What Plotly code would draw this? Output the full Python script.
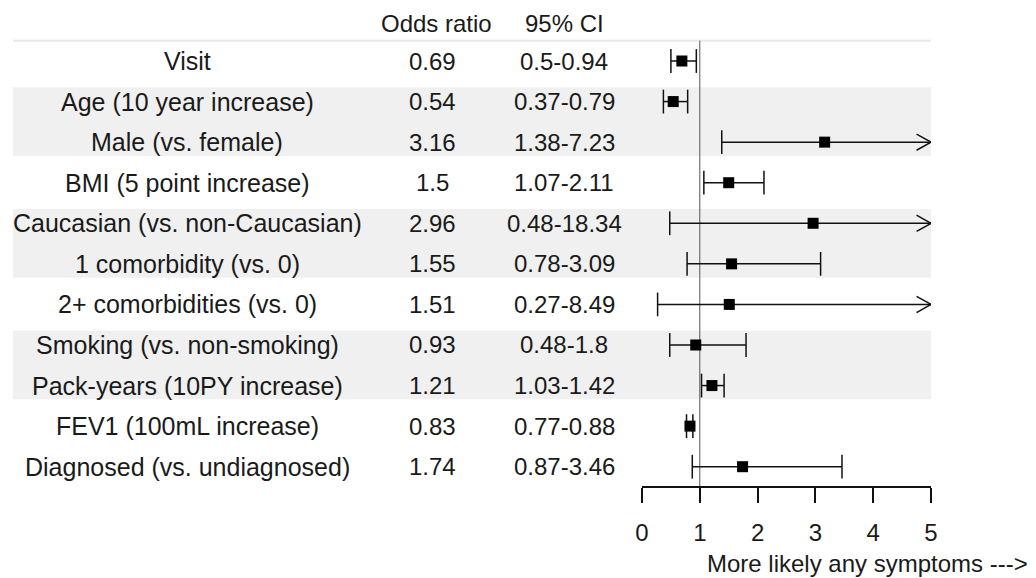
import plotly.graph_objects as go

# ---- data ----
labels = ["Visit", "Age (10 year increase)", "Male (vs. female)", "BMI (5 point increase)",
          "Caucasian (vs. non-Caucasian)", "1 comorbidity (vs. 0)", "2+ comorbidities (vs. 0)",
          "Smoking (vs. non-smoking)", "Pack-years (10PY increase)", "FEV1 (100mL increase)",
          "Diagnosed (vs. undiagnosed)"]
odds = [0.69, 0.54, 3.16, 1.5, 2.96, 1.55, 1.51, 0.93, 1.21, 0.83, 1.74]
ci_low = [0.5, 0.37, 1.38, 1.07, 0.48, 0.78, 0.27, 0.48, 1.03, 0.77, 0.87]
ci_high = [0.94, 0.79, 7.23, 2.11, 18.34, 3.09, 8.49, 1.8, 1.42, 0.88, 3.46]
shaded_groups = [(1, 2), (4, 5), (7, 8)]
headers = ["Odds ratio", "95% CI"]
x_ticks = [0, 1, 2, 3, 4, 5]
x_title = "More likely any symptoms --->"
x_max = 5

# page is rendered with an 8px body margin; figure is sized to fit the window
OFF = 8
FW, FH = 1036 - OFF, 578 - OFF
FONT = "Liberation Sans, Arial, sans-serif"
FS = 24
FS_LAB = 25
TXT = "#1a1a1a"


def px(x_page):
    return (x_page - OFF) / FW


rows = list(range(len(labels)))
fig = go.Figure()

# CI segments (clipped at x_max)
seg_x, seg_y = [], []
for i in rows:
    seg_x += [ci_low[i], min(ci_high[i], x_max), None]
    seg_y += [i, i, None]
fig.add_trace(go.Scatter(x=seg_x, y=seg_y, mode="lines", line=dict(color="#111", width=1.5),
                         hoverinfo="skip", cliponaxis=False))

# caps
cap_x, cap_y = [], []
for i in rows:
    cap_x.append(ci_low[i]); cap_y.append(i)
    if ci_high[i] <= x_max:
        cap_x.append(ci_high[i]); cap_y.append(i)
fig.add_trace(go.Scatter(x=cap_x, y=cap_y, mode="markers",
                         marker=dict(symbol="line-ns", size=17, line=dict(color="#111", width=1.5)),
                         hoverinfo="skip", cliponaxis=False))

# open arrowheads for CIs beyond x_max
ax_, ay_ = [], []
for i in rows:
    if ci_high[i] > x_max:
        ax_ += [x_max - 0.25, x_max, x_max - 0.25, None]
        ay_ += [i - 0.2, i, i + 0.2, None]
fig.add_trace(go.Scatter(x=ax_, y=ay_, mode="lines", line=dict(color="#111", width=1.5),
                         hoverinfo="skip", cliponaxis=False))

# point estimates
fig.add_trace(go.Scatter(x=odds, y=rows, mode="markers",
                         marker=dict(symbol="square", size=11, color="#000"),
                         cliponaxis=False))

# text columns
ann = []
col_label_x = px(187)
col_or_x = px(432)
col_ci_x = px(564)
for i in rows:
    ann.append(dict(x=col_label_x, y=i, xref="paper", yref="y", text=labels[i], showarrow=False,
                    xanchor="center", yanchor="middle", font=dict(family=FONT, size=FS_LAB, color=TXT)))
    ann.append(dict(x=col_or_x, y=i, xref="paper", yref="y", text=str(odds[i]), showarrow=False,
                    xanchor="center", yanchor="middle", font=dict(family=FONT, size=FS, color=TXT)))
    ann.append(dict(x=col_ci_x, y=i, xref="paper", yref="y", text=f"{ci_low[i]}-{ci_high[i]}",
                    showarrow=False, xanchor="center", yanchor="middle",
                    font=dict(family=FONT, size=FS, color=TXT)))
ann.append(dict(x=px(436), y=-0.93, xref="paper", yref="y", text=headers[0], showarrow=False,
                xanchor="center", yanchor="middle", font=dict(family=FONT, size=FS, color=TXT)))
ann.append(dict(x=col_ci_x, y=-0.93, xref="paper", yref="y", text=headers[1], showarrow=False,
                xanchor="center", yanchor="middle", font=dict(family=FONT, size=FS, color=TXT)))
ann.append(dict(x=px(1030), y=12.38, xref="paper", yref="y", text=x_title, showarrow=False,
                xanchor="right", yanchor="middle", font=dict(family=FONT, size=FS, color=TXT)))

shapes = []
for a, b in shaded_groups:
    shapes.append(dict(type="rect", xref="paper", yref="y", x0=px(13), x1=px(931),
                       y0=a - 0.35, y1=b + 0.34, fillcolor="#f0f0f0", line=dict(width=0),
                       layer="below"))
shapes.append(dict(type="line", xref="paper", yref="y", x0=px(13), x1=px(931), y0=-0.5, y1=-0.5,
                   line=dict(color="#e8e8e8", width=2), layer="below"))
shapes.append(dict(type="line", xref="x", yref="y", x0=1, x1=1, y0=-0.5, y1=10.5,
                   line=dict(color="#555", width=1), layer="below"))

row_px0, row_dy = 61.0 - OFF, 40.57
y_top = -row_px0 / row_dy
y_bot = (FH - row_px0) / row_dy

fig.update_layout(
    template="none",
    width=FW, height=FH, margin=dict(l=0, r=0, t=0, b=0, pad=0, autoexpand=False),
    paper_bgcolor="white", plot_bgcolor="rgba(0,0,0,0)",
    showlegend=False, annotations=ann, shapes=shapes,
    xaxis=dict(domain=[px(642), px(931)], range=[0, x_max], anchor="free",
               position=1 - (487 - OFF) / FH, showgrid=False, zeroline=False, automargin=False,
               showline=True, linecolor="#111", linewidth=1.5,
               ticks="outside", ticklen=15, tickwidth=1.5, tickcolor="#111",
               tickvals=x_ticks, ticktext=[str(t) for t in x_ticks],
               tickfont=dict(family=FONT, size=FS, color=TXT), ticklabelstandoff=9),
    yaxis=dict(domain=[0, 1], range=[y_bot, y_top], visible=False, showgrid=False,
               zeroline=False, automargin=False),
    font=dict(family=FONT, color=TXT),
)

fig.write_html("out.html")
